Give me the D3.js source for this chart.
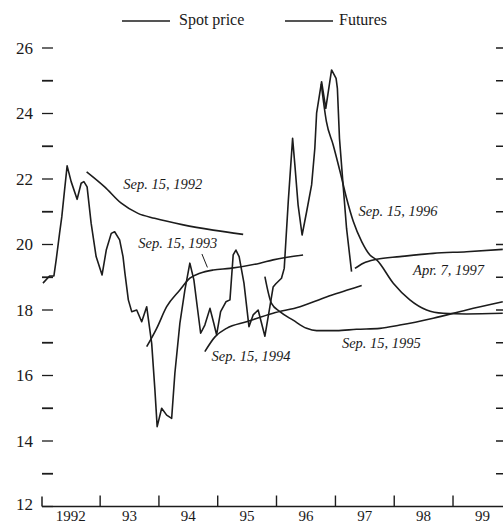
<!DOCTYPE html>
<html>
<head>
<meta charset="utf-8">
<script src="https://cdn.jsdelivr.net/npm/d3@7"></script>
<style>
  html, body { margin: 0; padding: 0; background: #fff; }
  svg { display: block; }
  text { font-family: "Liberation Serif", "Times New Roman", serif; fill: #1a1a1a; }
</style>
</head>
<body>
<svg id="chart" width="503" height="524"></svg>
<script>
// ---------------- DATA ----------------
const spotDates = ["1992-01-12","1992-02-22","1992-03-20","1992-04-03","1992-04-24","1992-05-08","1992-05-25","1992-06-10","1992-07-05","1992-08-11","1992-09-05","1992-09-22","1992-10-12","1992-11-06","1992-12-07","1993-01-13","1993-02-08","1993-03-11","1993-04-01","1993-05-02","1993-05-23","1993-06-04","1993-06-25","1993-07-16","1993-08-16","1993-09-16","1993-10-17","1993-11-17","1993-12-07","1993-12-21","1994-01-18","1994-02-18","1994-03-21","1994-04-10","1994-05-11","1994-06-11","1994-07-12","1994-08-06","1994-08-27","1994-09-17","1994-10-13","1994-11-14","1994-12-08","1994-12-25","1995-01-19","1995-02-21","1995-03-18","1995-04-07","1995-04-24","1995-05-14","1995-06-13","1995-07-14","1995-08-09","1995-09-09","1995-10-21","1995-11-21","1995-12-11","1995-12-28","1996-02-01","1996-02-18","1996-02-28","1996-03-14","1996-04-10","1996-04-24","1996-05-14","1996-06-08","1996-07-06","1996-08-06","1996-08-26","1996-09-06","1996-10-07","1996-11-02","1996-12-08","1997-01-05","1997-01-13","1997-01-26","1997-02-19","1997-03-11","1997-04-11"];
const spotValues = [18.82,19.04,19.04,19.53,20.34,20.85,21.66,22.40,21.92,21.38,21.87,21.92,21.76,20.65,19.63,19.07,19.83,20.34,20.39,20.14,19.63,19.12,18.31,17.95,18.00,17.64,18.10,16.98,15.56,14.44,15.00,14.79,14.69,16.07,17.59,18.61,19.43,18.92,18.10,17.29,17.54,18.05,17.59,17.24,17.95,18.25,18.31,19.68,19.83,19.63,18.82,17.49,17.85,18.00,17.20,18.10,18.70,18.80,18.97,19.27,20.09,21.31,23.24,22.43,21.21,20.29,21.00,21.82,22.94,24.01,24.97,24.16,25.33,25.07,24.77,23.24,21.72,20.49,19.17];

const fut1992Dates = ["1992-10-09","1993-01-29","1993-05-12","1993-08-24","1993-12-05","1994-06-01","1994-12-04","1995-06-08"];
const fut1992Values = [22.22,21.76,21.26,20.95,20.80,20.60,20.44,20.31];

const fut1993Dates = ["1993-10-17","1993-12-18","1994-02-18","1994-05-11","1994-07-12","1994-09-12","1994-12-04","1995-03-18","1995-09-20","1995-12-11","1996-06-14"];
const fut1993Values = [16.88,17.44,18.10,18.61,18.97,19.12,19.22,19.27,19.43,19.53,19.68];

const fut1994Dates = ["1994-10-13","1994-12-15","1995-02-25","1995-06-29","1995-12-11","1996-05-26","1996-11-06","1997-03-11","1997-06-13"];
const fut1994Values = [16.73,17.18,17.44,17.64,17.90,18.10,18.40,18.60,18.75];

const fut1995Dates = ["1995-10-21","1995-12-01","1996-01-22","1996-04-13","1996-07-06","1996-09-06","1997-01-08","1997-05-12","1997-10-04","1998-02-05","1998-08-31","1999-03-26","1999-11-06"];
const fut1995Values = [19.02,18.20,17.95,17.69,17.44,17.37,17.37,17.41,17.44,17.54,17.75,18.00,18.25];

const fut1996Dates = ["1996-10-05","1996-11-06","1996-12-18","1997-01-30","1997-03-11","1997-04-22","1997-06-13","1997-08-03","1997-09-14","1997-12-26","1998-04-08","1998-07-21","1998-11-01","1999-03-26","1999-11-06"];
const fut1996Values = [24.90,23.75,23.04,22.22,21.41,20.70,20.09,19.68,19.53,18.82,18.31,18.00,17.90,17.88,17.90];

const fut1997Dates = ["1997-05-02","1997-06-23","1997-09-14","1998-02-05","1998-08-31","1999-03-26","1999-11-06"];
const fut1997Values = [19.27,19.43,19.55,19.63,19.73,19.78,19.85];

const yearTicks = ["1992","1993","1994","1995","1996","1997","1998","1999","2000"];
const yearLabels = ["1992","93","94","95","96","97","98","99"];
const yTickValues = [12,13,14,15,16,17,18,19,20,21,22,23,24,25,26];
const yLabelValues = [12,14,16,18,20,22,24,26];

const curveLabels = [
  {text: "Sep. 15, 1992", date: "1993-05-25", value: 21.69},
  {text: "Sep. 15, 1993", date: "1993-08-26", value: 19.89},
  {text: "Sep. 15, 1994", date: "1994-11-24", value: 16.44},
  {text: "Sep. 15, 1995", date: "1997-02-10", value: 16.84},
  {text: "Sep. 15, 1996", date: "1997-05-24", value: 20.87},
  {text: "Apr. 7, 1997",  date: "1998-04-28", value: 19.07}
];
const leader1993 = [{date: "1994-09-25", value: 19.71}, {date: "1994-10-29", value: 19.30}];

const legendItems = ["Spot price", "Futures"];

// ---------------- CHART ----------------
const parse = d3.timeParse("%Y-%m-%d");
const parseY = d3.timeParse("%Y");
const svg = d3.select("#chart");
const ink = "#1c1c1c";

const x = d3.scaleTime()
  .domain([parseY("1992"), parseY("2000")])
  .range([41.2, 511.8]);
const y = d3.scaleLinear().domain([12, 26]).range([506.5, 48]);

const toPts = (ds, vs) => ds.map((d, i) => ({date: parse(d), value: vs[i]}));

// axis ticks left
const g = svg.append("g");
g.selectAll(".lt").data(yTickValues).enter().append("line")
  .attr("x1", 42).attr("x2", 53)
  .attr("y1", d => y(d)).attr("y2", d => y(d))
  .attr("stroke", ink).attr("stroke-width", d => d % 2 ? 1.8 : 1.3);
// right ticks
g.selectAll(".rt").data(yTickValues.filter(v => v > 12)).enter().append("line")
  .attr("x1", 496).attr("x2", 503)
  .attr("y1", d => y(d)).attr("y2", d => y(d))
  .attr("stroke", ink).attr("stroke-width", 1.5);
// y labels
g.selectAll(".yl").data(yLabelValues).enter().append("text")
  .attr("x", 33).attr("y", d => y(d) + (d === 12 ? 3 : 5.5))
  .attr("text-anchor", "end").attr("font-size", 17)
  .text(d => d);

// bottom axis
g.append("line").attr("x1", 42).attr("x2", 503)
  .attr("y1", y(12)).attr("y2", y(12)).attr("stroke", ink).attr("stroke-width", 1.5);
g.append("line").attr("x1", 42).attr("x2", 42)
  .attr("y1", y(12) - 10).attr("y2", y(12)).attr("stroke", ink).attr("stroke-width", 1.5);
g.selectAll(".xt").data(yearTicks.slice(1, 8)).enter().append("line")
  .attr("x1", d => x(parseY(d))).attr("x2", d => x(parseY(d)))
  .attr("y1", y(12) - 11).attr("y2", y(12))
  .attr("stroke", ink).attr("stroke-width", 1.4);
g.selectAll(".xl").data(yearLabels).enter().append("text")
  .attr("x", (d, i) => (x(parseY(yearTicks[i])) + x(parseY(yearTicks[i + 1]))) / 2)
  .attr("y", 521).attr("text-anchor", "middle").attr("font-size", 15)
  .text(d => d);

// lines
const lineLin = d3.line().x(d => x(d.date)).y(d => y(d.value));
const lineSmooth = d3.line().x(d => x(d.date)).y(d => y(d.value)).curve(d3.curveMonotoneX);

const futures = [
  toPts(fut1992Dates, fut1992Values),
  toPts(fut1993Dates, fut1993Values),
  toPts(fut1994Dates, fut1994Values),
  toPts(fut1995Dates, fut1995Values),
  toPts(fut1996Dates, fut1996Values),
  toPts(fut1997Dates, fut1997Values)
];
svg.append("g").selectAll("path").data(futures).enter().append("path")
  .attr("d", lineSmooth).attr("fill", "none")
  .attr("stroke", ink).attr("stroke-width", 1.6).attr("stroke-linejoin", "round");

svg.append("path").datum(toPts(spotDates, spotValues))
  .attr("d", lineLin).attr("fill", "none")
  .attr("stroke", ink).attr("stroke-width", 1.6).attr("stroke-linejoin", "round");

// leader line
svg.append("line")
  .attr("x1", x(parse(leader1993[0].date))).attr("y1", y(leader1993[0].value))
  .attr("x2", x(parse(leader1993[1].date))).attr("y2", y(leader1993[1].value))
  .attr("stroke", ink).attr("stroke-width", 1);

// curve labels
svg.append("g").selectAll("text").data(curveLabels).enter().append("text")
  .attr("x", d => x(parse(d.date))).attr("y", d => y(d.value))
  .attr("font-size", 14.5).attr("font-style", "italic")
  .text(d => d.text);

// legend
const leg = svg.append("g");
const legX = [[122, 170, 179], [285, 333, 339]];
legendItems.forEach((name, i) => {
  leg.append("line").attr("x1", legX[i][0]).attr("x2", legX[i][1])
    .attr("y1", 21).attr("y2", 21).attr("stroke", ink)
    .attr("stroke-width", i === 1 ? 1.3 : 1.6);
  leg.append("text").attr("x", legX[i][2]).attr("y", 25)
    .attr("font-size", 16).text(name);
});
</script>
</body>
</html>
